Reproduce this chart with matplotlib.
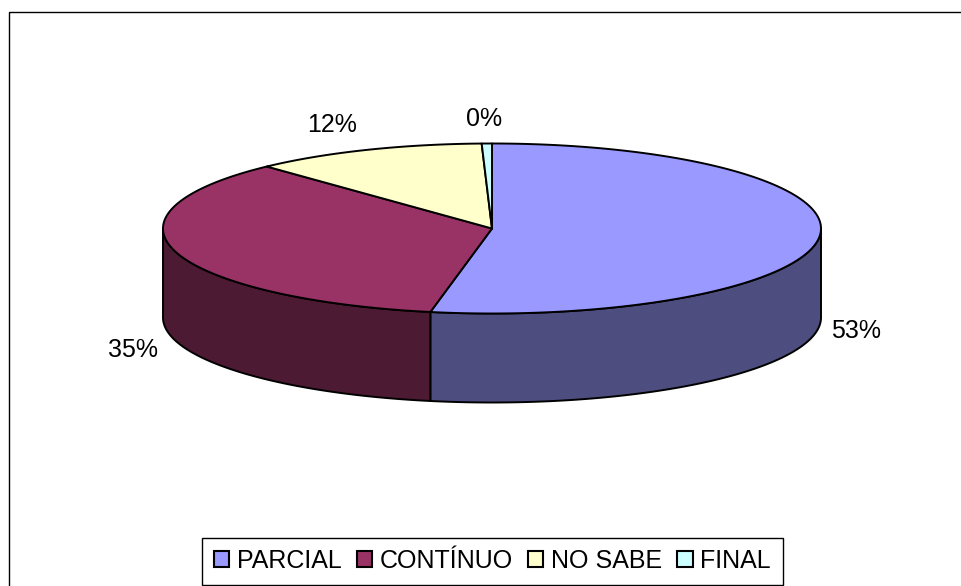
import numpy as np
import matplotlib
matplotlib.use("Agg")
import matplotlib.pyplot as plt
from matplotlib.patches import Polygon, Rectangle

categories = ["PARCIAL", "CONTÍNUO", "NO SABE", "FINAL"]
values = [53.0, 35.0, 11.5, 0.5]
labels = ["53%", "35%", "12%", "0%"]
top_colors = ["#9999FF", "#993366", "#FFFFCC", "#CCFFFF"]
wall_colors = ["#4D4D80", "#4D1A33", "#808066", "#668080"]

plt.rcParams["font.family"] = ["Liberation Sans", "DejaVu Sans"]
W, H = 962, 586
fig = plt.figure(figsize=(W / 100, H / 100), dpi=100)
ax = fig.add_axes([0, 0, 1, 1])
ax.set_xlim(0, W)
ax.set_ylim(H, 0)
ax.axis("off")

cx, cy, rx, ry, depth = 492, 228.5, 329, 85, 89
lw = 1.4


def rim(a0, a1, dy=0.0):
    t = np.radians(np.linspace(a0, a1, max(int(abs(a1 - a0) * 2), 2)))
    return np.column_stack([cx + rx * np.sin(t), cy + dy - ry * np.cos(t)])


ax.add_patch(Rectangle((9, 12), 1200, 1000, fill=False, ec="black", lw=1.0))

edges = np.concatenate([[0], np.cumsum(values)]) / np.sum(values) * 360

# walls: only the near half of the rim (90..270 degrees clockwise from top)
for i in range(len(values)):
    a0, a1 = max(edges[i], 90), min(edges[i + 1], 270)
    if a1 <= a0:
        continue
    pts = np.vstack([rim(a0, a1), rim(a1, a0, depth)])
    ax.add_patch(Polygon(pts, closed=True, fc=wall_colors[i], ec="black", lw=lw, joinstyle="round"))

# top faces
for i in range(len(values)):
    pts = np.vstack([[[cx, cy]], rim(edges[i], edges[i + 1])])
    ax.add_patch(Polygon(pts, closed=True, fc=top_colors[i], ec="black", lw=lw, joinstyle="round"))

label_pos = [(856, 331), (133, 350), (332, 125), (484, 119)]
for s, (x, y) in zip(labels, label_pos):
    ax.text(x, y, s, ha="center", va="center", fontsize=18, color="black")

handles = [Rectangle((0, 0), 1, 1, fc=c, ec="black", lw=1.5) for c in top_colors]
leg = ax.legend(handles, categories, ncol=4, loc="center",
                bbox_to_anchor=(492.5 / W, 1 - 561 / H), fontsize=18,
                frameon=True, fancybox=False, framealpha=1, edgecolor="black",
                handlelength=0.62, handleheight=0.62, handletextpad=0.32,
                columnspacing=0.58, borderpad=0.46, borderaxespad=0, labelspacing=0)
leg.get_frame().set_linewidth(1.0)

fig.savefig("out.png", dpi=100)
